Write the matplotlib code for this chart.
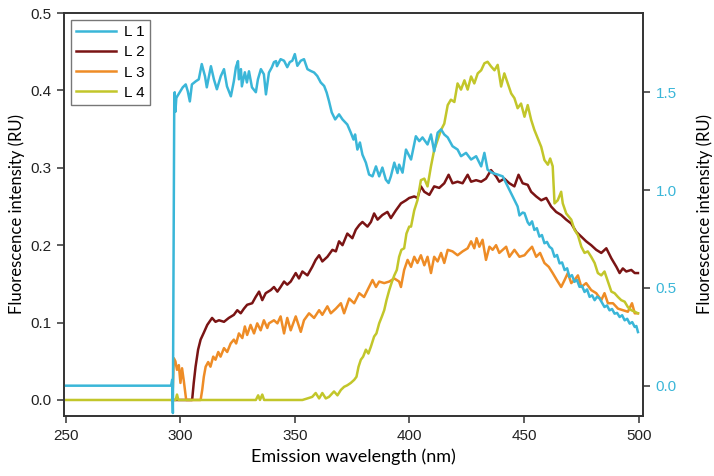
import matplotlib
matplotlib.use("Agg")
import matplotlib.pyplot as plt

# ---- data (wavelength nm, intensity RU) ----
L1 = [(250.0, 0.0), (296.0, 0.0), (296.5, 0.03), (296.8, -0.14), (297.2, 1.0), (297.4, 1.45), (297.6, 1.50),
      (297.9, 1.40), (298.3, 1.47), (298.7, 1.479), (299.8, 1.50), (301.1, 1.525), (302.4, 1.54), (303.3, 1.505),
      (304.2, 1.453), (305.1, 1.54), (306.8, 1.556), (308.1, 1.566), (309.4, 1.644), (310.8, 1.582), (311.6, 1.525),
      (313.4, 1.633), (314.7, 1.566), (316.0, 1.515), (317.7, 1.582), (319.1, 1.618), (320.4, 1.53), (322.1, 1.479),
      (323.4, 1.556), (324.3, 1.628), (325.2, 1.659), (325.6, 1.566), (326.5, 1.618), (326.9, 1.53), (328.2, 1.602),
      (329.1, 1.55), (330.0, 1.607), (331.3, 1.525), (333.0, 1.50), (333.9, 1.566), (335.2, 1.618), (336.5, 1.592),
      (337.4, 1.489), (338.7, 1.60), (340.0, 1.628), (340.9, 1.654), (341.8, 1.659), (342.2, 1.633), (343.8, 1.669),
      (345.3, 1.661), (346.7, 1.628), (347.8, 1.654), (348.9, 1.661), (350.0, 1.695), (351.1, 1.635), (352.6, 1.661),
      (354.0, 1.669), (355.5, 1.618), (356.9, 1.609), (358.4, 1.601), (359.8, 1.583), (361.3, 1.550), (362.8, 1.532),
      (363.9, 1.498), (364.9, 1.455), (366.1, 1.397), (367.6, 1.361), (369.3, 1.387), (370.8, 1.361), (372.9, 1.335),
      (374.4, 1.294), (375.6, 1.258), (376.3, 1.284), (377.3, 1.207), (378.4, 1.243), (379.5, 1.181), (381.0, 1.140),
      (382.4, 1.079), (383.9, 1.070), (385.4, 1.121), (386.8, 1.070), (388.2, 1.115), (389.7, 1.053), (390.9, 1.036),
      (391.9, 1.070), (393.4, 1.140), (394.8, 1.087), (395.5, 1.130), (397.0, 1.089), (398.5, 1.207), (400.7, 1.156),
      (402.8, 1.275), (404.3, 1.250), (405.7, 1.269), (407.9, 1.233), (409.4, 1.284), (410.8, 1.198), (412.3, 1.293),
      (413.8, 1.310), (415.2, 1.284), (416.7, 1.269), (418.8, 1.224), (421.0, 1.207), (422.5, 1.173), (424.7, 1.190),
      (426.9, 1.156), (429.1, 1.173), (431.3, 1.121), (432.7, 1.190), (434.1, 1.104), (436.3, 1.087), (438.5, 1.079),
      (440.7, 1.070), (442.9, 1.018), (445.1, 0.967), (447.2, 0.916), (448.0, 0.870), (449.4, 0.885), (450.2, 0.882),
      (451.6, 0.835), (452.4, 0.822), (453.5, 0.840), (454.5, 0.796), (455.6, 0.805), (456.7, 0.762), (457.8, 0.770),
      (458.9, 0.728), (460.0, 0.735), (461.1, 0.710), (462.2, 0.700), (463.3, 0.659), (464.4, 0.668), (465.5, 0.625),
      (466.6, 0.630), (467.7, 0.591), (468.8, 0.600), (469.8, 0.556), (470.9, 0.565), (472.0, 0.531), (473.1, 0.540),
      (474.2, 0.505), (475.3, 0.510), (476.4, 0.479), (477.5, 0.492), (478.6, 0.454), (479.7, 0.462), (480.8, 0.437),
      (481.9, 0.455), (483.0, 0.445), (484.0, 0.425), (485.1, 0.402), (486.2, 0.410), (487.3, 0.385), (488.4, 0.392),
      (489.5, 0.368), (490.6, 0.372), (491.7, 0.351), (492.8, 0.360), (493.9, 0.334), (495.0, 0.342), (496.1, 0.317),
      (497.2, 0.325), (498.3, 0.300), (499.0, 0.305), (499.7, 0.274)]

L2 = [(296.5, 0.0), (305.2, 0.0), (305.9, 0.022), (306.7, 0.043), (307.8, 0.065), (308.9, 0.078), (310.3, 0.087),
      (311.8, 0.097), (313.9, 0.106), (315.4, 0.101), (316.9, 0.103), (319.1, 0.101), (321.2, 0.106), (323.4, 0.110),
      (324.9, 0.116), (326.4, 0.112), (327.8, 0.118), (329.2, 0.123), (331.4, 0.125), (332.9, 0.133), (334.4, 0.140),
      (335.8, 0.129), (337.3, 0.138), (339.5, 0.142), (340.9, 0.146), (342.4, 0.140), (343.8, 0.146), (345.3, 0.153),
      (346.7, 0.149), (348.2, 0.153), (350.4, 0.164), (351.8, 0.157), (353.3, 0.166), (355.5, 0.161), (357.6, 0.172),
      (359.1, 0.181), (360.6, 0.187), (362.0, 0.179), (364.2, 0.185), (366.4, 0.194), (367.9, 0.192), (369.3, 0.205),
      (370.8, 0.200), (372.9, 0.215), (375.1, 0.209), (376.6, 0.220), (378.1, 0.226), (379.5, 0.230), (381.7, 0.224),
      (383.2, 0.230), (384.6, 0.241), (386.1, 0.233), (388.2, 0.239), (390.4, 0.243), (391.9, 0.235), (394.1, 0.245),
      (396.3, 0.254), (398.5, 0.258), (399.9, 0.261), (402.1, 0.263), (403.5, 0.261), (405.0, 0.276), (406.5, 0.269),
      (408.7, 0.265), (410.8, 0.276), (413.0, 0.274), (415.2, 0.280), (417.1, 0.291), (418.8, 0.280), (421.0, 0.282),
      (423.2, 0.280), (425.4, 0.291), (426.9, 0.282), (429.1, 0.284), (431.3, 0.282), (433.4, 0.286), (435.6, 0.297),
      (437.8, 0.289), (439.2, 0.282), (441.4, 0.286), (443.6, 0.280), (445.8, 0.276), (447.6, 0.291), (449.4, 0.280),
      (451.6, 0.278), (453.1, 0.269), (455.3, 0.263), (457.5, 0.258), (459.7, 0.261), (461.8, 0.250), (464.0, 0.243),
      (466.2, 0.239), (468.4, 0.233), (470.6, 0.228), (472.8, 0.217), (475.0, 0.211), (477.1, 0.205), (479.3, 0.200),
      (481.5, 0.194), (483.7, 0.190), (485.9, 0.196), (488.1, 0.183), (490.3, 0.172), (491.7, 0.164), (493.1, 0.170),
      (494.6, 0.166), (496.8, 0.168), (498.3, 0.164), (499.7, 0.164)]

L3 = [(296.5, 0.0), (296.8, 0.017), (297.2, 0.054), (297.9, 0.050), (298.6, 0.039), (299.4, 0.045), (300.1, 0.022),
      (300.8, 0.041), (301.6, 0.024), (302.6, 0.0), (308.9, 0.0), (309.6, 0.013), (310.3, 0.030), (311.1, 0.043),
      (312.2, 0.049), (313.2, 0.043), (314.4, 0.056), (315.4, 0.052), (316.6, 0.062), (317.6, 0.056), (319.1, 0.067),
      (320.5, 0.062), (322.0, 0.073), (323.4, 0.078), (324.4, 0.073), (325.6, 0.086), (327.1, 0.080), (328.2, 0.095),
      (329.2, 0.084), (330.7, 0.097), (332.2, 0.086), (333.6, 0.099), (335.1, 0.090), (336.5, 0.103), (338.0, 0.093),
      (338.7, 0.099), (340.9, 0.103), (342.4, 0.099), (343.8, 0.108), (345.3, 0.086), (346.7, 0.106), (348.2, 0.090),
      (350.4, 0.108), (352.6, 0.088), (354.0, 0.103), (356.2, 0.112), (358.4, 0.106), (360.6, 0.116), (362.0, 0.110),
      (364.2, 0.121), (365.7, 0.112), (367.9, 0.118), (370.1, 0.125), (371.5, 0.112), (373.7, 0.131), (375.9, 0.125),
      (378.1, 0.138), (380.2, 0.133), (382.4, 0.146), (383.9, 0.155), (385.4, 0.146), (386.8, 0.153), (389.0, 0.151),
      (391.2, 0.153), (393.4, 0.157), (395.5, 0.153), (396.3, 0.146), (397.7, 0.168), (399.2, 0.181), (400.7, 0.172),
      (402.1, 0.185), (403.5, 0.177), (405.0, 0.187), (406.5, 0.174), (407.9, 0.185), (409.4, 0.164), (410.8, 0.185),
      (412.3, 0.179), (413.8, 0.190), (415.2, 0.177), (416.7, 0.194), (418.8, 0.192), (421.0, 0.187), (423.2, 0.192),
      (425.4, 0.196), (426.9, 0.205), (428.3, 0.196), (429.3, 0.209), (430.5, 0.198), (431.9, 0.207), (433.4, 0.181),
      (434.9, 0.198), (436.3, 0.194), (437.8, 0.200), (439.2, 0.190), (440.7, 0.194), (442.2, 0.198), (443.6, 0.185),
      (445.8, 0.194), (448.0, 0.185), (450.2, 0.187), (451.6, 0.192), (453.5, 0.198), (455.3, 0.185), (457.0, 0.190),
      (458.9, 0.177), (460.8, 0.172), (462.5, 0.164), (464.3, 0.155), (466.2, 0.146), (467.7, 0.155), (469.1, 0.164),
      (470.6, 0.151), (472.0, 0.155), (473.5, 0.161), (475.0, 0.146), (477.1, 0.151), (479.3, 0.142), (481.5, 0.138),
      (483.7, 0.129), (485.1, 0.138), (486.6, 0.125), (488.8, 0.125), (491.0, 0.118), (493.1, 0.116), (495.3, 0.114),
      (497.1, 0.125), (498.3, 0.112), (499.7, 0.112)]

L4 = [(250.0, 0.0), (298.0, 0.0), (298.6, 0.007), (299.2, 0.0), (333.0, 0.0), (334.0, 0.006), (334.8, 0.0),
      (335.8, 0.007), (336.6, 0.0), (350.4, 0.0), (353.3, 0.0), (355.5, 0.002), (357.6, 0.004), (359.1, 0.009),
      (360.6, 0.002), (362.0, 0.009), (363.5, 0.002), (364.9, 0.004), (367.1, 0.011), (368.6, 0.006), (370.1, 0.013),
      (371.5, 0.017), (372.9, 0.019), (374.4, 0.022), (375.9, 0.026), (376.9, 0.030), (377.8, 0.043), (378.8, 0.052),
      (379.8, 0.056), (381.0, 0.065), (382.1, 0.060), (383.2, 0.069), (384.6, 0.082), (385.6, 0.086), (386.8, 0.099),
      (388.0, 0.108), (389.0, 0.116), (390.0, 0.129), (391.2, 0.142), (392.4, 0.153), (393.4, 0.161), (394.5, 0.168),
      (395.5, 0.185), (396.5, 0.194), (397.7, 0.196), (398.7, 0.215), (399.9, 0.224), (400.7, 0.224), (402.1, 0.245),
      (403.5, 0.258), (405.0, 0.284), (406.5, 0.286), (407.9, 0.276), (409.4, 0.302), (410.8, 0.323), (412.3, 0.336),
      (413.8, 0.349), (415.2, 0.357), (416.7, 0.381), (418.1, 0.388), (419.6, 0.385), (421.0, 0.409), (422.5, 0.401),
      (424.0, 0.413), (425.4, 0.401), (426.9, 0.418), (428.3, 0.409), (429.8, 0.422), (431.3, 0.426), (432.7, 0.435),
      (434.1, 0.437), (435.6, 0.431), (437.1, 0.426), (438.5, 0.433), (440.0, 0.405), (441.4, 0.422), (442.9, 0.409),
      (444.4, 0.396), (445.8, 0.390), (447.2, 0.377), (448.7, 0.383), (450.2, 0.366), (451.6, 0.381), (453.1, 0.362),
      (454.5, 0.349), (456.0, 0.338), (457.5, 0.327), (458.9, 0.310), (460.4, 0.304), (461.4, 0.312), (462.5, 0.302),
      (463.3, 0.254), (464.7, 0.258), (466.2, 0.269), (466.9, 0.254), (468.4, 0.241), (470.6, 0.233), (472.0, 0.220),
      (473.5, 0.213), (475.0, 0.198), (476.4, 0.190), (477.8, 0.192), (479.3, 0.185), (480.8, 0.177), (482.2, 0.164),
      (483.7, 0.161), (485.1, 0.166), (486.6, 0.153), (488.1, 0.140), (489.5, 0.138), (491.0, 0.133), (492.4, 0.129),
      (493.9, 0.127), (495.3, 0.120), (496.8, 0.116), (498.3, 0.114), (499.7, 0.112)]

labels = ["L 1", "L 2", "L 3", "L 4"]
colors = ["#3AB6D8", "#7A1414", "#EE8C26", "#C2C62A"]
x_ticks = [250, 300, 350, 400, 450, 500]
left_ticks = [0.0, 0.1, 0.2, 0.3, 0.4, 0.5]
right_ticks = [0.0, 0.5, 1.0, 1.5]

tick_font = "Liberation Sans"
label_font = "Lato"

fig = plt.figure(figsize=(7.14, 4.76), dpi=100)
ax = fig.add_axes([64 / 714, 1 - 416 / 476, (643 - 64) / 714, (416 - 13) / 476])
ax2 = ax.twinx()

lw = 1.8
handles = {}
for name, data, c in [("L 2", L2, colors[1]), ("L 3", L3, colors[2]), ("L 4", L4, colors[3])]:
    xs, ys = zip(*data)
    h, = ax.plot(xs, ys, color=c, lw=lw, solid_joinstyle="round")
    handles[name] = h
xs, ys = zip(*L1)
h, = ax2.plot(xs, ys, color=colors[0], lw=lw, solid_joinstyle="round")
handles["L 1"] = h

ax.set_xlim(249.3, 501.9)
ax.set_ylim(-0.0207, 0.5)
ax2.set_ylim(-0.155, 1.905)

ax.set_xticks(x_ticks)
ax.set_xticklabels([str(t) for t in x_ticks], fontfamily=tick_font, fontsize=11, color="#222222")
ax.set_yticks(left_ticks)
ax.set_yticklabels([f"{t:.1f}" for t in left_ticks], fontfamily=tick_font, fontsize=11, color="#222222")
ax2.set_yticks(right_ticks)
ax2.set_yticklabels([f"{t:.1f}" for t in right_ticks], fontfamily=tick_font, fontsize=11, color=colors[0])

for a in (ax, ax2):
    for s in a.spines.values():
        s.set_linewidth(1.2)
        s.set_color("#333333")
    a.tick_params(direction="out", length=5, width=1.1, color="#333333", pad=4)

ax.set_xlabel("Emission wavelength (nm)", fontfamily=label_font, fontsize=13, labelpad=4)
ax.set_ylabel("Fluorescence intensity (RU)", fontfamily=label_font, fontsize=12, labelpad=4)
ax2.set_ylabel("Fluorescence intensity (RU)", fontfamily=label_font, fontsize=12, labelpad=14, rotation=90)

leg = ax2.legend([handles[n] for n in labels], labels, loc="upper left",
                 bbox_to_anchor=((71 - 64) / 579, 1 - (20 - 13) / 403), borderaxespad=0,
                 fancybox=False, frameon=True, handlelength=2.6, labelspacing=0.4,
                 prop={"family": tick_font, "size": 11}, borderpad=0.35, handletextpad=0.5)
leg.get_frame().set_edgecolor("#555555")
leg.get_frame().set_linewidth(1.0)

fig.savefig("out.png", dpi=100)
